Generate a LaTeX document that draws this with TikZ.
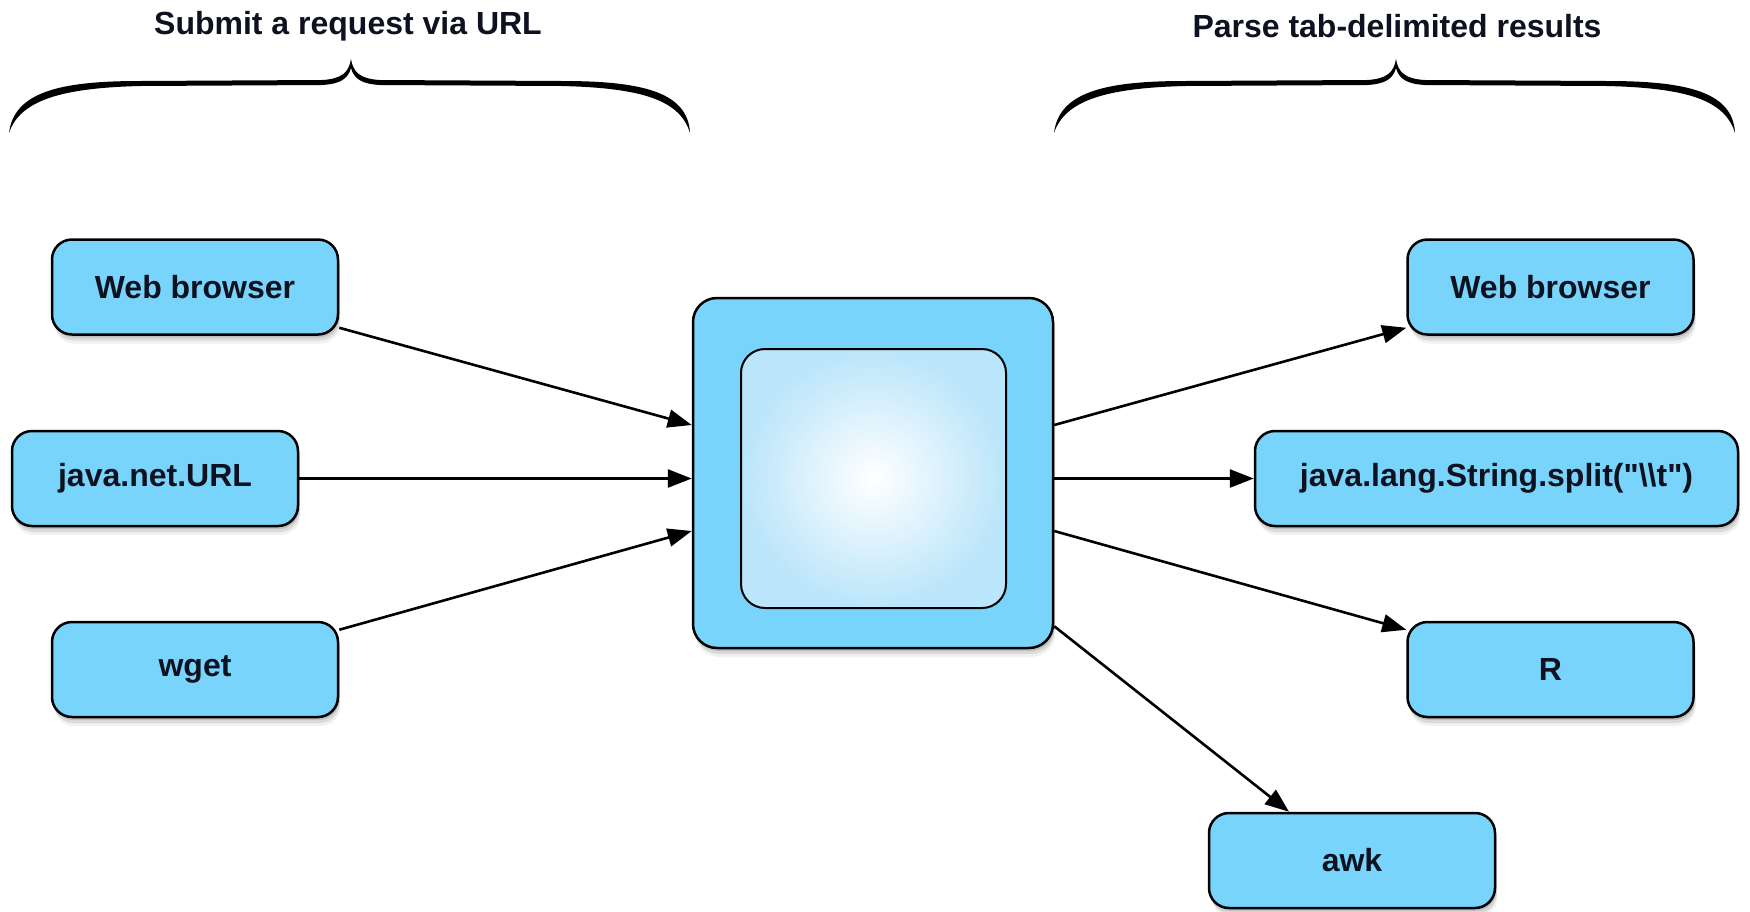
\documentclass[tikz,border=0pt]{standalone}
\usepackage{fontspec}
\setmainfont{Liberation Sans}[Ligatures=TeXOff]
\usetikzlibrary{arrows.meta,shadows,calc}

\definecolor{boxblue}{RGB}{120,212,250}
\definecolor{paleblue}{RGB}{186,229,250}
\definecolor{ink}{RGB}{14,18,32}

\tikzset{
  softshadow/.style={
    drop shadow={shadow xshift=0.6pt, shadow yshift=-1.5pt, opacity=0.18, fill=black!70},
    drop shadow={shadow xshift=0.9pt, shadow yshift=-3pt, opacity=0.14, fill=black!70},
    drop shadow={shadow xshift=1.2pt, shadow yshift=-4.5pt, opacity=0.08, fill=black!70}},
  tool/.style={draw=black, line width=1.25pt, rounded corners=10pt, fill=boxblue,
    minimum width=143pt, minimum height=47.5pt, inner sep=0pt,
    font=\bfseries\fontsize{16pt}{19pt}\selectfont, text=ink, softshadow},
  hub/.style={draw=black, line width=1.25pt, rounded corners=12pt, fill=boxblue,
    minimum width=180pt, minimum height=175pt, inner sep=0pt, softshadow},
  core/.style={draw=black, line width=1pt, rounded corners=12pt,
    inner color=white, outer color=paleblue,
    minimum width=132.5pt, minimum height=129.5pt, inner sep=0pt},
  arr/.style={line width=1.3pt, -{Triangle[length=12pt,width=9pt]}},
  caption/.style={font=\bfseries\fontsize{16pt}{19pt}\selectfont, text=ink},
  brace/.style={fill=black}
}

\begin{document}
\begin{tikzpicture}[x=0.5pt, y=-0.5pt]
  \useasboundingbox (0,0) rectangle (1750,911);

  % captions and curly braces
  \node[caption] (ltitle) at (348,26) {Submit a request via URL};
  \node[caption] (rtitle) at (1397,26) {Parse tab-delimited results};

  \foreach \dx in {0,1045} {
    \begin{scope}[xshift=\dx*0.5pt]
      \fill[brace]
        (9,133) .. controls (14,92) and (60,81) .. (140,81)
        -- (322,80) .. controls (342,79) and (349,72) .. (351,59)
        .. controls (353,72) and (360,79) .. (380,80)
        -- (562,81) .. controls (642,81) and (688,92) .. (690,133)
        .. controls (680,100) and (642,88) .. (562,86)
        -- (380,85) .. controls (362,84) and (354,79) .. (351,68)
        .. controls (348,79) and (340,84) .. (322,85)
        -- (140,86) .. controls (62,88) and (20,100) .. (9,133) -- cycle;
    \end{scope}
  }

  % central block
  \node[hub] (c) at (873,473) {};
  \node[core] (ci) at (873.5,478.5) {};

  % request sources
  \node[tool] (lw) at (195,287) {Web browser};
  \node[tool] (jn) at (155,478.5) {java.net.URL};
  \node[tool] (wg) at (195,669.5) {wget};

  % result consumers
  \node[tool] (rw) at (1550.5,287) {Web browser};
  \node[tool, minimum width=241.5pt] (jl) at (1496.5,478.5) {java.lang.String.split("\textbackslash\textbackslash t")};
  \node[tool] (rr) at (1550.5,669.5) {R};
  \node[tool] (aw) at (1352,860.5) {awk};

  % incoming requests
  \draw[arr] ([yshift=4pt]lw.south east) -- ([yshift=24pt]c.west);
  \draw[arr] (jn.east) -- (jn.east -| c.west);
  \draw[arr] ([yshift=-4.5pt]wg.north east) -- ([yshift=-29pt]c.west);

  % outgoing results
  \draw[arr] ([yshift=24pt]c.east) -- ([yshift=4pt]rw.south west);
  \draw[arr] (jl.west -| c.east) -- (jl.west);
  \draw[arr] ([yshift=-29pt]c.east) -- ([yshift=-4.5pt]rr.north west);
  \draw[arr] ([yshift=11.5pt]c.south east) -- ([xshift=-31.5pt]aw.north);
\end{tikzpicture}
\end{document}
